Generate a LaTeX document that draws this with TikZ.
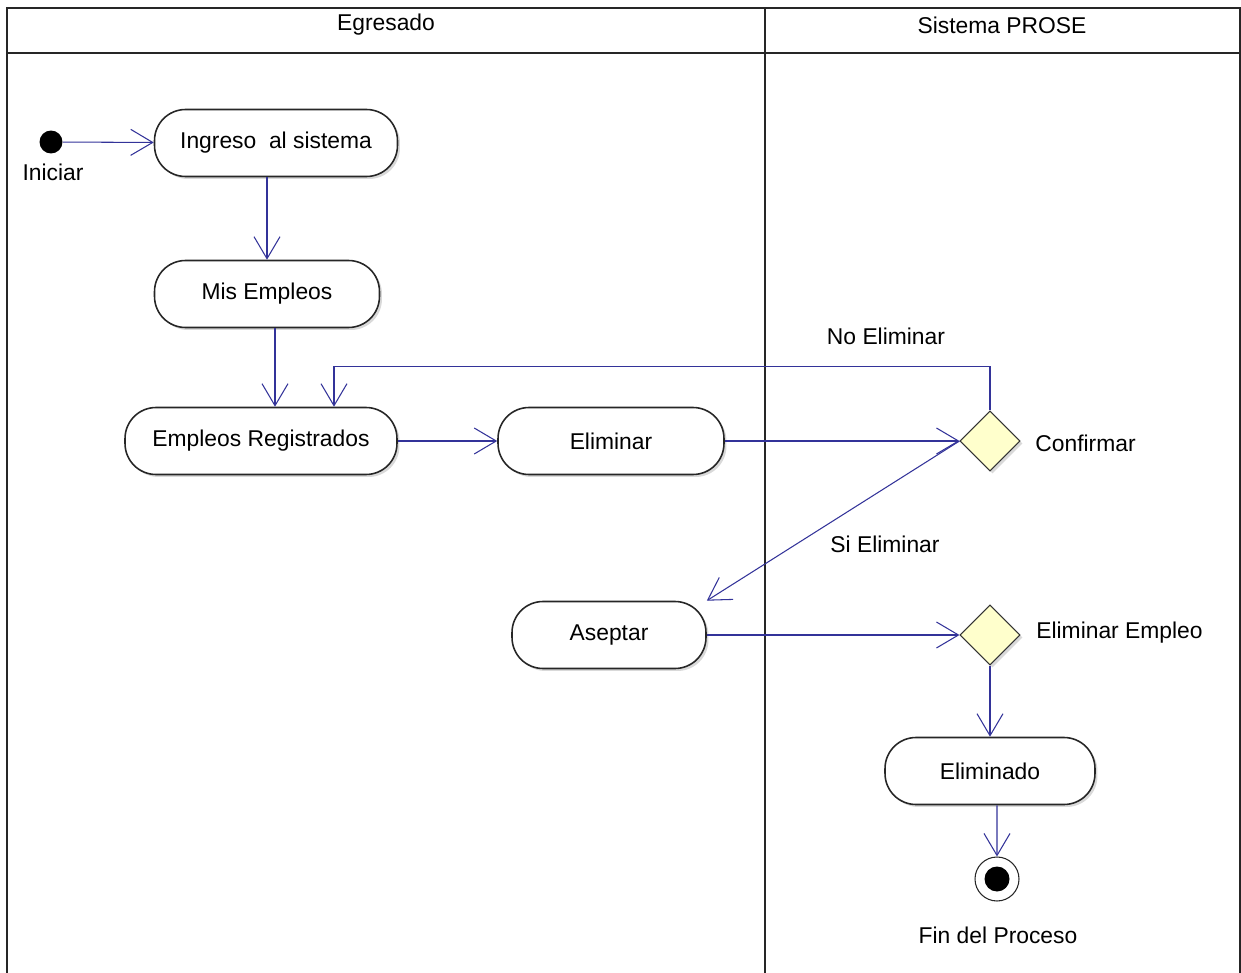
\documentclass[tikz,border=0pt]{standalone}
\usepackage{fontspec}
\setmainfont{Liberation Sans}
\usetikzlibrary{arrows.meta,shapes.geometric,shadows}
\definecolor{flowblue}{RGB}{51,51,153}
\definecolor{decyellow}{RGB}{255,255,204}

\begin{document}
\begin{tikzpicture}[x=0.02cm,y=-0.02cm,>={Straight Barb[length=4.4mm,width=5.2mm]},
  font=\fontsize{13}{16}\selectfont,
  act/.style={draw=black!85,line width=0.9pt,fill=white,rounded corners=0.62cm,
    minimum height=1.34cm,inner sep=0pt,
    drop shadow={shadow xshift=0.05cm,shadow yshift=-0.05cm,opacity=0.3}},
  dec/.style={diamond,draw=black!80,line width=0.6pt,fill=decyellow,
    minimum size=1.2cm,inner sep=0pt,
    drop shadow={shadow xshift=0.05cm,shadow yshift=-0.05cm,opacity=0.3}},
  flow/.style={->,flowblue,line width=0.6pt},
  lane/.style={line width=1.2pt,black!85}]
  \useasboundingbox (0,0) rectangle (1241,973);
  \draw[lane] (7,973) -- (7,8) -- (1240,8) -- (1240,973);
  \draw[lane] (7,53) -- (1240,53);
  \draw[lane] (765,8) -- (765,973);
  \node (egr) at (386,25) {Egresado};
  \node (sis) at (1002,25) {Sistema PROSE};

  \node[circle,fill=black,minimum size=0.46cm,inner sep=0pt] (ini) at (51,142) {};
  \node (inilbl) at (53,172) {Iniciar};
  \node[act,minimum width=4.86cm] (ing) at (276,143) {Ingreso\ \ al sistema};
  \node[act,minimum width=4.5cm] (mis) at (267,294) {Mis Empleos};
  \node[act,minimum width=5.44cm] (reg) at (261,441) {Empleos Registrados};
  \node[act,minimum width=4.52cm] (elim) at (611,441) {Eliminar};
  \node[dec] (conf) at (990,441) {};
  \node[anchor=west,inner sep=0pt] (conflbl) at (1035,443) {Confirmar};
  \node[act,minimum width=3.88cm] (asep) at (609,635) {Aseptar};
  \node[dec] (eemp) at (990,635) {};
  \node[anchor=west,inner sep=0pt] (eemplbl) at (1036,633) {Eliminar Empleo};
  \node[act,minimum width=4.2cm] (elimdo) at (990,771) {Eliminado};
  \node[circle,draw=black!85,fill=white,line width=0.6pt,minimum size=0.88cm,inner sep=0pt] (fin) at (997,879) {};
  \node[circle,fill=black,minimum size=0.5cm,inner sep=0pt] (findot) at (fin) {};
  \node (finlbl) at (998,935) {Fin del Proceso};
  \node (noelim) at (886,336) {No Eliminar};
  \node (sielim) at (885,544) {Si Eliminar};

  \draw[flow] (ini) -- (ing);
  \draw[flow] (ing.south -| mis.north) -- (mis.north);
  \draw[flow] ([xshift=0.16cm]mis.south) -- ([xshift=0.16cm]mis.south |- reg.north);
  \draw[flow] (reg) -- (elim);
  \draw[flow] (elim) -- (conf);
  \draw[flow] (conf.north) -- ++(0,-44) -| ([xshift=1.46cm]reg.north);
  \draw[flow] (conf.west) -- (asep.north east);
  \draw[flow] (asep) -- (eemp);
  \draw[flow] (eemp) -- (elimdo);
  \draw[flow] ([xshift=0.14cm]elimdo.south) -- (fin);
\end{tikzpicture}
\end{document}
